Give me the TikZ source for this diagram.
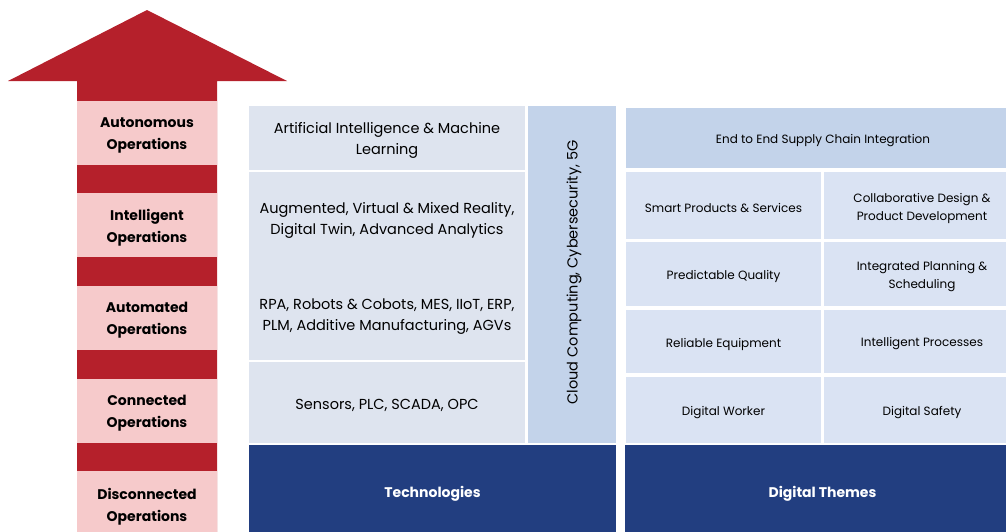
\documentclass[tikz,border=0pt]{standalone}
\usepackage{fontspec}
\setmainfont{Poppins}
\definecolor{arrowred}{HTML}{B5202B}
\definecolor{pinkbox}{HTML}{F6CACB}
\definecolor{techbox}{HTML}{DEE4EF}
\definecolor{cloudbox}{HTML}{C3D3EA}
\definecolor{gridbox}{HTML}{DAE3F3}
\definecolor{navy}{HTML}{223E80}
\tikzset{
  cell/.style={rectangle, inner sep=0pt, outer sep=0pt},
  txt/.style={inner sep=0pt, outer sep=0pt, align=center, text=black},
  stage/.style={cell, fill=pinkbox, minimum width=140pt},
  stagetext/.style={txt, font=\bfseries\fontsize{14}{22}\selectfont},
  tech/.style={cell, fill=techbox},
  techtext/.style={txt, font=\fontsize{14.5}{21.5}\selectfont},
  theme/.style={cell, fill=gridbox},
  themetext/.style={txt, font=\fontsize{12}{18}\selectfont},
  header/.style={cell, fill=navy},
  headertext/.style={txt, text=white, font=\bfseries\fontsize{14}{16}\selectfont},
}
\newcommand{\lbl}[3]{\node[#1] (#2t) at ([yshift=-2.5pt]#2.center) {#3};}
\begin{document}
\begin{tikzpicture}[x=1pt,y=-1pt]
\useasboundingbox (0,0) rectangle (1006,531);
\clip (0,0) rectangle (1006,531);
% arrow
\fill[arrowred] (147,10) -- (287,81) -- (217,81) -- (217,540) -- (77,540) -- (77,81) -- (8,81) -- cycle;
% stages
\node[stage, minimum height=64pt] (auto) at (147,133) {};
\node[stage, minimum height=64pt] (intel) at (147,225) {};
\node[stage, minimum height=64pt] (autom) at (147,318) {};
\node[stage, minimum height=64pt] (conn) at (147,411) {};
\node[stage, minimum height=67pt] (disc) at (147,504.5) {};
\lbl{stagetext}{auto}{Autonomous\\Operations}
\lbl{stagetext}{intel}{Intelligent\\Operations}
\lbl{stagetext}{autom}{Automated\\Operations}
\lbl{stagetext}{conn}{Connected\\Operations}
\lbl{stagetext}{disc}{Disconnected\\Operations}
% technologies
\node[tech, minimum width=276pt, minimum height=64pt] (ai) at (387,138) {};
\node[tech, minimum width=276pt, minimum height=188pt] (big) at (387,266) {};
\node[tech, minimum width=276pt, minimum height=81pt] (sens) at (387,402.5) {};
\node[tech, fill=cloudbox, minimum width=88pt, minimum height=337pt] (cloud) at (572,274.5) {};
\node[header, minimum width=367pt, minimum height=92pt] (techhead) at (432.5,491) {};
\lbl{techtext}{ai}{Artificial Intelligence \& Machine\\Learning}
\node[techtext] (arvr) at (387,220.5) {Augmented, Virtual \& Mixed Reality,\\Digital Twin, Advanced Analytics};
\node[techtext] (rpa) at (387,316.5) {RPA, Robots \& Cobots, MES, IIoT, ERP,\\PLM, Additive Manufacturing, AGVs};
\lbl{techtext}{sens}{Sensors, PLC, SCADA, OPC}
\node[techtext, rotate=90] (cloudt) at (574,272.5) {Cloud Computing, Cybersecurity, 5G};
\lbl{headertext}{techhead}{Technologies}
% digital themes
\node[theme, fill=cloudbox, minimum width=394pt, minimum height=60pt] (e2e) at (823,138) {};
\node[theme, minimum width=195pt, minimum height=67pt] (smart) at (723.5,205.5) {};
\node[theme, minimum width=196pt, minimum height=67pt] (collab) at (922,205.5) {};
\node[theme, minimum width=195pt, minimum height=64pt] (pred) at (723.5,274) {};
\node[theme, minimum width=196pt, minimum height=64pt] (plan) at (922,274) {};
\node[theme, minimum width=195pt, minimum height=63pt] (rel) at (723.5,341.5) {};
\node[theme, minimum width=196pt, minimum height=63pt] (proc) at (922,341.5) {};
\node[theme, minimum width=195pt, minimum height=66pt] (worker) at (723.5,410) {};
\node[theme, minimum width=196pt, minimum height=66pt] (safety) at (922,410) {};
\node[header, minimum width=395pt, minimum height=92pt] (themehead) at (822.5,491) {};
\lbl{themetext}{e2e}{End to End Supply Chain Integration}
\lbl{themetext}{smart}{Smart Products \& Services}
\lbl{themetext}{collab}{Collaborative Design \&\\Product Development}
\lbl{themetext}{pred}{Predictable Quality}
\lbl{themetext}{plan}{Integrated Planning \&\\Scheduling}
\lbl{themetext}{rel}{Reliable Equipment}
\lbl{themetext}{proc}{Intelligent Processes}
\lbl{themetext}{worker}{Digital Worker}
\lbl{themetext}{safety}{Digital Safety}
\lbl{headertext}{themehead}{Digital Themes}
\end{tikzpicture}
\end{document}
